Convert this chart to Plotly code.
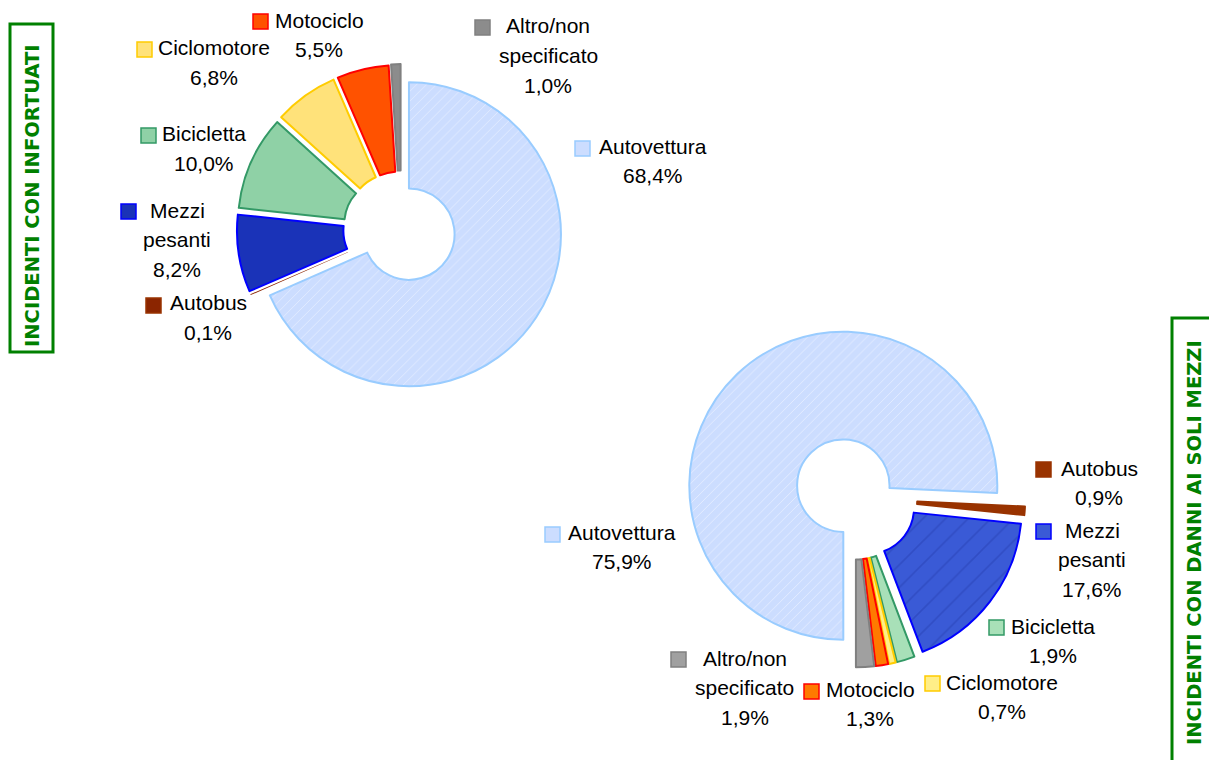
import plotly.graph_objects as go

# ---------------- data ----------------
categories = ["Autovettura", "Autobus", "Mezzi pesanti", "Bicicletta",
              "Ciclomotore", "Motociclo", "Altro/non specificato"]
label_lines = [["Autovettura"], ["Autobus"], ["Mezzi", "pesanti"], ["Bicicletta"],
               ["Ciclomotore"], ["Motociclo"], ["Altro/non", "specificato"]]
values_infortunati = [68.4, 0.1, 8.2, 10.0, 6.8, 5.5, 1.0]
values_danni = [75.9, 0.9, 17.6, 1.9, 0.7, 1.3, 1.9]
title_left = "INCIDENTI CON INFORTUATI"
title_right = "INCIDENTI CON DANNI AI SOLI MEZZI"

# ---------------- styles ----------------
W, H = 1217, 760
OFF = 8  # page body margin around the plot div
fill1 = ["#CCDDFF", "#8B2500", "#1A33B8", "#8FD1A6", "#FFE27A", "#FF5200", "#8C8C8C"]
fill2 = ["#CCDDFF", "#993300", "#3A5AD6", "#A8E0B8", "#FFEE88", "#FF7A00", "#A0A0A0"]
lines = ["#99CCFF", "#993300", "#0000FF", "#339966", "#FFCC00", "#FF0000", "#808080"]
lw1 = [2, 0, 2, 2, 2, 2, 2]
lw2 = [2, 2, 2, 2, 2, 2, 2]
pull1 = [0.0625, 0.08, 0.08, 0.08, 0.08, 0.08, 0.085]
pull2 = [0.11, 0.105, 0.105, 0.1, 0.1, 0.1, 0.1]


def px(x):
    return (x - OFF) / W


def py(y):
    return 1 - (y - OFF) / H


# pie geometry (page pixels): centre and radius
def domain(cx, cy, r, maxpull):
    half = r * (1 + maxpull)
    return dict(x=[px(cx - half), px(cx + half)],
                y=[py(cy + half), py(cy - half)])


fig = go.Figure()
fig.add_trace(go.Pie(
    labels=categories, values=values_infortunati, sort=False,
    direction="clockwise", rotation=0, hole=0.30, pull=pull1,
    textinfo="none", showlegend=False,
    domain=domain(401, 229, 152, max(pull1)),
    marker=dict(colors=fill1, line=dict(color=lines, width=lw1),
                pattern=dict(shape=["/", "", "", "", "", "", ""],
                             bgcolor=fill1, fgcolor="white",
                             fgopacity=0.45, size=7, solidity=0.12)),
))
fig.add_trace(go.Pie(
    labels=categories, values=values_danni, sort=False,
    direction="clockwise", rotation=180, hole=0.30, pull=pull2,
    textinfo="none", showlegend=False,
    domain=domain(855, 498, 154, max(pull2)),
    marker=dict(colors=fill2, line=dict(color=lines, width=lw2),
                pattern=dict(shape=["/", "", "/", "", "", "", ""],
                             bgcolor=fill2,
                             fgcolor=["white", "white", "#2A44B8", "white", "white", "white", "white"],
                             fgopacity=0.6, size=[7, 7, 16, 7, 7, 7, 7], solidity=0.1)),
))

# label layout (page pixels): text centre x, first-line centre y, key square left, top
pos1 = [(653, 146, 575, 141), (208, 303, 146, 298), (177, 210, 121, 204),
        (204, 134, 141, 128), (214, 48, 137, 42), (319, 20, 253, 14),
        (548, 26, 475, 20)]
pos2 = [(622, 532, 545, 527), (1099, 468, 1036, 462), (1092, 530, 1036, 524),
        (1053, 626, 989, 620), (1002, 682, 925, 676), (870, 689, 804, 684),
        (745, 658, 671, 652)]
LINE_H = 29.5
SQ = 15


def pct(v):
    return f"{v:.1f}".replace(".", ",") + "%"


annotations = []
shapes = []
for vals, pos, fills in ((values_infortunati, pos1, fill1), (values_danni, pos2, fill2)):
    for i, (cx, y0, sx, sy) in enumerate(pos):
        text_lines = label_lines[i] + [pct(vals[i])]
        for j, t in enumerate(text_lines):
            annotations.append(dict(
                x=px(cx), y=py(y0 + j * LINE_H), xref="paper", yref="paper",
                text=t, showarrow=False, xanchor="center", yanchor="middle",
                font=dict(family="Arial, Liberation Sans", size=21, color="black")))
        shapes.append(dict(type="rect", xref="paper", yref="paper",
                           x0=px(sx), x1=px(sx + SQ),
                           y0=py(sy + SQ), y1=py(sy),
                           fillcolor=fills[i], line=dict(color=lines[i], width=1.5)))

# side titles in green boxes
for text, cx, cy, box in ((title_left, 32, 196, (10, 24, 53, 352)),
                          (title_right, 1194, 543, (1172, 318, 1214, 775))):
    annotations.append(dict(
        x=px(cx), y=py(cy), xref="paper", yref="paper", text=f"<b>{text}</b>",
        textangle=-90, showarrow=False, xanchor="center", yanchor="middle",
        font=dict(family="Verdana, DejaVu Sans", size=19.5, color="#008000")))
    x0, y0, x1, y1 = box
    shapes.append(dict(type="rect", xref="paper", yref="paper",
                       x0=px(x0), x1=px(x1), y0=py(y1), y1=py(y0),
                       line=dict(color="#008000", width=3), fillcolor="rgba(0,0,0,0)"))

fig.update_layout(
    width=W, height=H, autosize=False,
    margin=dict(l=0, r=0, t=0, b=0),
    paper_bgcolor="white", plot_bgcolor="white",
    annotations=annotations, shapes=shapes,
)

fig.write_html("out.html")
